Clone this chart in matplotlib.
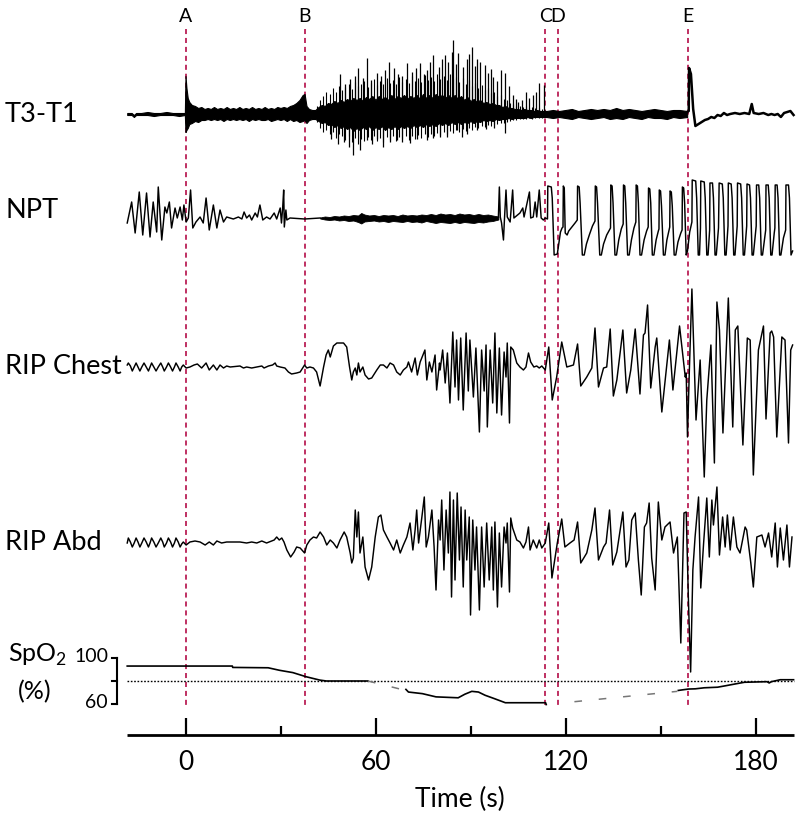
import matplotlib.pyplot as plt
import numpy as np

plt.rcParams['font.family'] = ['Lato', 'DejaVu Sans']
plt.rcParams['mathtext.fontset'] = 'custom'
plt.rcParams['mathtext.rm'] = 'Lato'

# ---------------- data (time in s, traces in arbitrary units, + = up) ----------------
event_lbl = ['A', 'B', 'C', 'D', 'E']
event_t = [0.0, 37.6, 113.6, 117.6, 158.6]

# T3-T1: envelope of the dense EMG band
t3_env_t = [-18.4, -17, -16.3, -15.6, -14, -12, -10, -8, -6, -4, -2, -0.2,
            0.0, 0.3, 0.7, 1.2, 2, 3, 4, 5, 6, 7, 8, 9, 10, 11, 12, 13, 14, 15, 16, 17, 18, 19, 20,
            21, 22, 23, 24, 25, 26, 27, 28, 29, 30, 31, 32, 33, 34, 35, 36, 37, 37.6, 38.2, 39, 40,
            41, 42, 43, 44, 45, 46, 47, 48, 49, 50, 51, 52, 53, 54, 55, 56, 57, 58, 59, 60,
            61, 62, 63, 64, 65, 66, 67, 68, 69, 70, 71, 72, 73, 74, 75, 76, 77, 78, 79, 80,
            81, 82, 83, 84, 85, 86, 87, 88, 89, 90, 91, 92, 93, 94, 95, 96, 97, 98, 99, 100,
            101, 102, 103, 104, 105, 106, 107, 108, 109, 110, 111, 112, 113, 114,
            116, 118, 120, 122, 124, 126, 128, 130, 132, 134, 136, 138, 140, 142, 144, 146, 148,
            150, 152, 154, 156, 158.4]
t3_env_hi = [1, 1, -1, 1, 1, 2, 1, 1, 2, 1, 1, 1,
             38, 26, 16, 12, 9, 8, 6, 7, 5, 6, 5, 7, 5, 6, 5, 7, 5, 6, 5, 7, 5, 6, 5,
             7, 5, 6, 5, 7, 5, 6, 5, 7, 6, 7, 6, 8, 9, 11, 14, 19, 20, 8, 5, 4,
             4, 7, 9, 8, 11, 10, 13, 11, 14, 12, 15, 13, 16, 14, 16, 13, 17, 15, 18, 14,
             18, 15, 17, 14, 19, 15, 18, 16, 19, 15, 18, 16, 19, 15, 20, 16, 19, 16, 20, 17,
             19, 16, 19, 16, 19, 15, 18, 14, 17, 13, 15, 12, 14, 11, 12, 10, 11, 9, 9, 7,
             8, 6, 6, 5, 5, 4, 5, 4, 4, 3, 4, 3, 3, 3,
             4, 3, 4, 5, 3, 4, 5, 4, 5, 4, 6, 4, 5, 4, 3, 4, 5,
             4, 3, 4, 4, 3]
t3_env_lo = [-1, -1, -3, -1, -1, -1, -2, -1, -1, -1, -2, -1,
             -18, -16, -14, -10, -9, -7, -8, -6, -6, -5, -6, -5, -6, -5, -7, -5, -6, -5, -6, -5, -6, -5, -7,
             -5, -6, -5, -6, -6, -5, -7, -6, -5, -6, -5, -7, -5, -7, -6, -8, -7, -6, -9, -6, -5,
             -5, -7, -9, -8, -11, -10, -13, -11, -14, -12, -15, -13, -17, -14, -16, -13, -15, -12, -16, -13,
             -15, -12, -16, -13, -15, -12, -15, -12, -14, -12, -14, -11, -13, -11, -13, -10, -12, -10, -12, -9,
             -11, -9, -11, -8, -10, -8, -10, -8, -9, -7, -9, -7, -8, -6, -7, -6, -7, -5, -6, -5,
             -5, -4, -5, -4, -4, -4, -4, -3, -4, -3, -3, -3, -3, -3,
             -4, -3, -4, -5, -3, -4, -5, -4, -3, -5, -4, -5, -3, -4, -5, -3, -4,
             -4, -5, -3, -4, -3]
# T3-T1: individual spikes over the burst
t3_up_t = [48.8, 50.5, 52.0, 53.5, 54.6, 56.0, 57.2, 58.5, 60.4, 61.8, 63.0, 64.1, 65.7, 67.0, 68.5,
           69.9, 71.5, 72.8, 74.1, 75.2, 76.2, 77.3, 78.3, 79.9, 81.0, 81.9, 83.0, 84.1, 84.6, 85.4,
           86.2, 87.7, 88.8, 89.5, 90.4, 91.5, 92.2, 93.0, 94.6, 95.6, 96.4, 97.2, 98.4, 99.6, 100.9,
           102.0, 103.3, 104.2, 105.1, 106.3, 107.5, 108.5, 109.8, 110.8, 111.7, 113.3]
t3_up_v = [40, 30, 35, 38, 46, 36, 56, 34, 41, 38, 44, 52, 46, 40, 38,
           51, 42, 46, 51, 40, 44, 52, 59, 47, 55, 59, 52, 62, 74, 50,
           61, 47, 55, 60, 67, 48, 55, 52, 49, 41, 45, 37, 33, 44, 41,
           28, 19, 15, 12, 14, 22, 16, 19, 22, 31, 29]
t3_dn_t = [46.0, 48.0, 50.0, 51.5, 53.0, 55.1, 57.2, 59.0, 60.5, 62.5, 64.5, 66.7, 68.5, 71.0,
           73.0, 76.2, 78.0, 80.4, 82.5, 85.7, 87.2, 89.0, 92.0, 95.0, 97.5, 100.9]
t3_dn_v = [-25, -30, -28, -33, -41, -36, -26, -30, -25, -33, -28, -26, -28, -29,
           -25, -26, -24, -23, -23, -16, -23, -20, -16, -15, -14, -19]
# T3-T1: medium excursions, one per second (41.5 ... 113.5 s)
t3_mid_t = [41.5 + i for i in range(73)]
t3_mid_up = [8, 14, 18, 22, 20, 26, 22, 28, 24, 27, 30, 25, 32, 28, 30, 33, 27, 31, 35, 29,
             33, 30, 36, 31, 34, 30, 37, 32, 35, 31, 38, 33, 36, 32, 39, 34, 37, 33, 40, 35,
             38, 34, 40, 35, 37, 32, 36, 30, 34, 28, 31, 26, 29, 24, 26, 21, 22, 18, 19, 15,
             14, 11, 10, 8, 8, 7, 8, 6, 7, 6, 6, 5, 4]
t3_mid_dn = [-8, -14, -18, -16, -20, -18, -24, -20, -22, -26, -22, -28, -24, -30, -25, -27, -23, -26, -22, -27,
             -24, -28, -23, -26, -22, -27, -23, -25, -22, -26, -22, -25, -21, -24, -20, -23, -20, -22, -19, -21,
             -18, -20, -17, -19, -16, -18, -15, -17, -14, -16, -13, -14, -12, -13, -11, -12, -10, -10, -9, -9,
             -8, -7, -6, -6, -5, -5, -5, -4, -5, -4, -4, -4, -3]
t3_post_t = [158.4, 158.9, 159.0, 159.6, 160.3, 161.0, 162.0, 163.0, 164.0, 165.0, 166.0, 167.0, 168.0,
             169.0, 170.0, 171.0, 172.0, 173.5, 175.0, 176.5, 178.0, 178.8, 179.4, 181.0, 182.5, 184.0,
             185.0, 186.0, 187.0, 188.0, 189.0, 190.0, 191.0, 192.0]
t3_post_v = [2, 3, 46, 40, 5, -12, -10, -8, -6, -5, -3, -4, -1, -2, 1, -1, 0, 1, 0, 1, 0, 10, 1, 0, 1, -1,
             0, -1, 0, -3, 1, 2, 3, -1]

# NPT: pre-C polyline, noise band during the central apnoea, post-C sawtooth
npt_pre = [(-18.4, -5), (-17.0, 16), (-15.9, -15), (-14.6, 26), (-13.5, -17), (-12.3, 25), (-11.2, -19),
           (-10.2, 16), (-9.1, -14), (-8.6, 31), (-7.5, -22), (-6.5, 11), (-5.9, 5), (-5.1, 16), (-4.4, -10),
           (-3.3, 10), (-2.6, 0), (-1.7, 11), (-1.0, -2), (-0.5, 13), (0.2, -4), (0.9, 0), (1.6, 28),
           (2.3, -10), (3.3, -4), (4.6, 1), (5.6, -5), (6.5, 20), (7.5, -12), (8.8, 13), (9.9, -10),
           (10.9, 8), (12.0, -4), (13.0, 1), (15.1, -1), (16.7, 1), (17.8, -1), (18.5, 6), (19.3, 0),
           (20.2, 3), (20.9, -2), (22.0, 5), (22.7, 1), (23.5, 13), (24.4, -2), (25.6, 1), (26.7, -1),
           (28.0, 5), (28.8, -1), (29.9, 10), (30.3, -5), (30.7, 11), (31.0, 28), (31.2, -9), (31.7, 8),
           (32.0, -2), (33.0, 0), (37.6, -1), (42.5, 0)]
npt_band_t = [42.5, 44, 45.5, 47, 48.5, 50, 51.5, 53, 54.5, 55.5, 56.5, 58, 59.5, 61, 62.5, 64, 65.5, 67,
              68.5, 70, 71.5, 73, 74.5, 76, 77.5, 79, 80.5, 82, 83.5, 85, 86.5, 88, 89.5, 91, 92.5, 94,
              95.5, 97, 98.8]
npt_band_hi = [0.5, 1.5, 1, 2, 1.5, 2.5, 2, 3, 2.5, 5, 3.5, 2.5, 3, 2, 3, 2.5, 3, 2, 3.5, 2.5, 3, 2.5, 3.5,
               3, 4, 3, 4.5, 3.5, 4, 3, 4.5, 3.5, 4, 3, 4, 3, 3.5, 2.5, 1.5]
npt_band_lo = [-0.5, -1.5, -2, -1.5, -2.5, -2, -3, -2.5, -4, -5.5, -3.5, -3, -2.5, -3.5, -3, -4, -3, -3.5,
               -4, -3, -4, -3.5, -4.5, -3, -4, -5, -4, -4.5, -5, -4, -5, -4, -4.5, -5, -4, -4.5, -3.5,
               -3, -1.5]
npt_post = [(98.8, 1), (99.1, 31), (99.4, 1), (99.8, -5), (100.4, -22), (100.7, -2), (101.2, 28), (101.6, 1),
            (102.5, -4), (103.3, 28), (103.7, 0), (105.6, 5), (106.5, 10), (106.9, 1), (108.6, 26), (109.0, 0),
            (109.8, 1), (110.4, 16), (110.9, 1), (111.7, 28), (112.3, 0), (113.0, -2), (113.6, 0),
            (114.3, -1), (114.4, 32), (115.5, 31), (115.8, 20), (116.4, -37), (117.4, -36), (117.9, -25),
            (118.4, -14), (118.9, -10), (119.2, -9), (119.3, 32), (119.6, 30), (119.9, -15), (120.5, -17),
            (121.0, -13), (122.0, -9), (123.0, -5), (123.7, -2), (123.8, 32), (124.3, 31), (124.6, 15),
            (125.3, -37), (125.9, -37), (126.6, -26), (127.5, -17), (128.5, -8), (129.3, -3), (129.4, 32),
            (129.8, 31), (130.1, 15), (130.8, -37), (131.3, -37), (132.0, -26), (133.0, -17), (134.2, -10),
            (134.3, 33), (134.7, 32), (135.0, 15), (135.6, -37), (136.1, -37), (136.8, -22), (137.6, -11),
            (138.2, -6), (138.3, 33), (138.7, 32), (139.0, 15), (139.6, -37), (140.1, -37), (140.8, -22),
            (141.6, -10), (142.2, -4), (142.3, 33), (142.7, 32), (143.0, 15), (143.5, -37), (144.0, -37),
            (144.8, -22), (145.6, -13), (146.1, -9), (146.2, 30), (146.6, 29), (146.9, 15), (147.4, -37),
            (147.9, -37), (148.6, -22), (149.3, -13), (149.5, -11), (149.6, 28), (150.0, 27), (150.3, 12),
            (150.9, -37), (151.4, -37), (152.0, -22), (152.7, -12), (152.9, -9), (153.0, 27), (153.4, 26),
            (153.7, 12), (154.3, -37), (154.8, -37), (155.5, -24), (156.4, -15), (156.8, -12), (156.9, 31),
            (157.3, 30), (157.6, 15), (158.1, -37), (158.5, -33), (159.2, -14), (159.9, -4), (160.0, 38),
            (161.1, 37), (161.4, 20), (161.9, -37), (162.3, -37), (162.6, -10), (162.7, 37), (163.8, 36),
            (164.1, 20), (164.6, -37), (165.0, -37), (165.5, -12), (165.6, 35), (166.4, 35), (166.7, 20),
            (167.2, -37), (167.6, -37), (168.3, -10), (168.5, 35), (169.5, 34), (169.8, 20), (170.3, -37),
            (170.7, -37), (171.3, -8), (171.4, 35), (172.3, 34), (172.6, 20), (173.1, -37), (173.5, -37),
            (174.2, -8), (174.3, 35), (175.3, 34), (175.6, 20), (176.1, -37), (176.5, -37), (177.2, -8),
            (177.3, 34), (178.1, 33), (178.4, 20), (178.9, -37), (179.3, -37), (180.2, -8), (180.3, 33),
            (181.0, 33), (181.3, 20), (181.8, -37), (182.2, -37), (182.9, -20), (183.2, -12), (183.3, 33),
            (184.0, 33), (184.3, 20), (184.8, -37), (185.2, -37), (185.9, -15), (186.1, -10), (186.2, 33),
            (186.8, 33), (187.1, 20), (187.6, -37), (188.0, -37), (188.8, -20), (189.5, -12), (189.6, 33),
            (190.4, 33), (190.7, 20), (191.2, -37), (191.7, -33)]

# RIP chest
chest = [(-18.4, 2), (-18.05, 4), (-17.4, 1), (-16.8, -4), (-16.2, 0), (-15.6, 4), (-15.0, 0), (-14.4, -4),
         (-13.8, 0), (-13.1, 4), (-12.4, 0), (-11.7, -4), (-11.2, 0), (-10.7, 4), (-10.0, 0), (-9.3, -4),
         (-8.6, 0), (-7.8, 4), (-7.2, 0), (-6.7, -4), (-6.0, 0), (-5.4, 4), (-4.7, 0), (-4.1, -4),
         (-3.5, 0), (-3.0, 4), (-2.3, 0), (-1.7, -4), (-1.2, 0), (-0.7, 2),
         (0.2, -1), (1.4, 0), (2.7, 2), (3.75, 3), (5.1, -1), (6.5, 4), (7.5, -3), (8.8, 2), (9.9, -3),
         (10.9, 2), (12.0, -1), (13.0, 1), (14.1, 0), (17.2, 1), (18.3, -1), (19.3, 0), (20.9, -1),
         (22.5, 0), (24.1, 1), (24.8, -1), (26.2, 1), (27.5, 2), (28.3, 4), (28.8, 1), (29.9, 0),
         (31.4, -1), (32.5, -5), (33.5, -7), (35.1, -6), (36.2, -5), (37.6, 2), (38.3, -1), (39.3, 0),
         (40.4, -1), (41.4, -5), (42.5, -19), (43.6, 0), (44.4, 12), (45.1, 17), (45.7, 10), (46.7, 21),
         (47.8, 24), (49.9, 24), (50.9, 20), (51.8, 0), (52.5, -13), (53.0, -5), (53.6, -1), (54.1, -8),
         (54.6, 4), (55.1, -5), (56.0, 0), (56.7, -8), (57.8, -12), (58.8, -11), (60.4, -3), (61.5, 2),
         (62.5, 2), (63.6, -1), (64.6, 4), (65.7, 2), (66.7, -5), (67.8, -8), (68.8, -3), (69.9, 0),
         (70.4, 5), (71.4, -5), (72.5, 9), (73.2, -8), (74.1, 5), (75.6, 17), (76.2, -13), (77.0, 5),
         (77.8, -5), (78.8, 12), (79.3, -23), (80.2, 4), (80.4, -3), (81.2, 17), (82.0, -16), (82.7, 14),
         (83.5, -36), (84.4, 35), (85.1, -20), (85.6, 27), (86.2, -33), (86.9, 29), (87.7, -43), (88.6, 34),
         (89.3, -24), (89.8, 27), (90.9, -30), (91.7, 19), (92.8, -65), (93.5, 17), (94.3, -24), (94.9, 22),
         (95.3, -60), (96.2, 17), (97.0, -36), (97.7, 34), (98.3, -46), (99.1, 19), (99.8, -48), (100.6, 15),
         (101.2, -10), (101.6, 24), (102.3, -56), (102.7, 20), (103.5, 17), (104.6, 4), (105.6, 0),
         (106.7, -3), (107.5, 0), (108.3, 14), (109.0, 5), (110.0, 0), (110.9, 1), (111.7, -1), (112.5, 1),
         (113.6, -3), (114.7, 20), (115.8, -33), (117.2, -10), (118.8, 25), (120.4, 0), (122.5, 2),
         (123.8, 23), (124.8, -19), (126.7, -10), (128.3, -1), (129.3, 39), (130.4, -20), (132.0, -1),
         (133.0, 0), (134.1, 38), (135.1, -29), (136.2, -13), (138.1, 37), (139.3, -26), (140.6, -3),
         (142.0, 38), (143.5, -27), (144.6, 32), (145.1, 34), (145.9, 62), (146.9, -21), (148.3, 20),
         (148.8, 29), (150.4, -45), (152.8, 27), (153.9, -23), (156.0, 41), (157.8, -10), (158.1, -6),
         (158.5, -70), (159.1, -3), (159.9, 78), (161.2, -53), (162.5, 7), (163.8, -110), (164.6, -33),
         (165.9, 22), (167.0, -96), (167.8, 65), (168.6, 37), (169.7, -66), (171.4, 69), (172.8, -60),
         (173.6, 37), (174.4, 41), (176.0, -78), (177.4, 29), (178.3, 27), (179.3, -108), (180.9, 17),
         (182.5, 41), (183.3, -52), (184.6, 34), (185.1, 36), (185.7, 30), (186.7, -70), (188.3, 30),
         (189.3, 27), (190.4, -76), (191.1, 17), (191.7, 22)]

# RIP abdomen
abd = [(-18.4, 2), (-18.05, 7), (-17.4, 3), (-16.8, -2), (-16.2, 2), (-15.6, 7), (-15.0, 3), (-14.4, -2),
       (-13.8, 2), (-13.1, 7), (-12.4, 3), (-11.7, -2), (-11.2, 2), (-10.7, 7), (-10.0, 3), (-9.3, -2),
       (-8.6, 2), (-7.8, 7), (-7.2, 3), (-6.7, -2), (-6.0, 2), (-5.4, 7), (-4.7, 3), (-4.1, -2),
       (-3.5, 2), (-3.0, 7), (-2.3, 3), (-1.7, -2), (-1.2, 1), (-0.7, 3),
       (0.2, 0), (1.4, 3), (3.0, 4), (4.6, 3), (6.2, 0), (7.5, 3), (8.8, 0), (9.9, 4), (11.4, 2), (13.0, 3),
       (17.2, 3), (19.3, 2), (20.9, 3), (22.5, 2), (24.1, 4), (25.6, 2), (28.0, 5), (28.8, 8), (29.6, 5),
       (30.4, 7), (31.1, 3), (32.0, -5), (33.2, -12), (34.3, -7), (35.1, -2), (36.2, -3), (37.6, -8),
       (38.3, 0), (39.3, 5), (40.4, 8), (41.4, 7), (42.5, 13), (43.6, 8), (44.6, 0), (45.7, 5), (46.7, 2),
       (47.8, -3), (48.8, 5), (50.1, 13), (50.9, 8), (52.0, -8), (52.5, -18), (53.0, -13), (53.6, 35),
       (54.1, 8), (54.6, 33), (55.1, -8), (56.0, 8), (56.7, -22), (57.8, -35), (58.8, -22), (59.9, 8),
       (60.9, 28), (61.7, 30), (62.5, 15), (63.6, 8), (64.6, 2), (65.7, -5), (66.7, 5), (67.8, -8),
       (68.8, 0), (69.9, 8), (70.9, 22), (71.8, -5), (72.5, 15), (73.0, 35), (73.6, 2), (74.6, 27),
       (75.4, 48), (76.0, -2), (76.7, 8), (77.8, 35), (78.5, -2), (79.1, -45), (79.9, 25), (80.4, 5),
       (80.9, 45), (81.6, -25), (82.3, 35), (83.0, -8), (83.5, 53), (84.0, -52), (84.6, 45), (85.1, -35),
       (85.8, 52), (86.5, -15), (87.0, 38), (87.7, -42), (88.3, 35), (88.8, -15), (89.6, 28), (90.0, -70),
       (90.7, 25), (91.4, -25), (91.9, 18), (92.8, -65), (93.5, 18), (94.3, -42), (95.1, 22), (95.9, -35),
       (96.7, 18), (97.2, -45), (97.7, 23), (98.5, -62), (99.1, 12), (99.8, -42), (100.6, 18), (101.2, 2),
       (101.6, 22), (102.3, -47), (102.7, 27), (103.3, 17), (104.6, 5), (105.6, 3), (106.7, -3),
       (107.5, 3), (108.3, 18), (108.8, -5), (109.8, 5), (110.9, -3), (111.7, 5), (112.5, -3), (113.6, 2),
       (114.7, 22), (115.7, -33), (116.7, -12), (117.4, 2), (118.8, 26), (119.8, -2), (121.4, 2),
       (122.7, 5), (123.8, 23), (124.8, -18), (126.7, -8), (128.3, 15), (129.3, 37), (130.4, -15),
       (132.0, -2), (132.8, 2), (133.9, 35), (134.9, -20), (136.2, -7), (138.1, 33), (139.1, -22),
       (140.0, -15), (140.9, 25), (142.0, 32), (143.0, -15), (143.9, -50), (144.9, 18), (145.6, 22),
       (146.4, 42), (147.2, -13), (148.3, -45), (149.3, 43), (150.4, 5), (151.4, 18), (153.0, 23),
       (154.1, -8), (155.3, 8), (156.4, -98), (157.4, 32), (158.1, 33), (158.8, -55), (159.5, -127),
       (160.2, -25), (160.9, 8), (162.0, 48), (162.7, -43), (163.6, 2), (164.6, 47), (165.4, -12),
       (166.2, 45), (166.7, 20), (167.8, 58), (168.6, -10), (169.6, 28), (170.4, -2), (171.1, 30),
       (172.0, -5), (173.0, 28), (174.1, -2), (175.1, -8), (176.7, 18), (177.2, 15), (178.5, -18),
       (179.3, -42), (180.4, 8), (182.0, 10), (183.0, -2), (184.1, 12), (185.1, -12), (186.2, 22),
       (186.9, -22), (187.8, 17), (188.8, -15), (189.9, 20), (190.7, -22), (191.5, 8)]

# SpO2 (%): solid recorded parts and dashed gaps
spo2_seg1_t = [-18.4, 14.8, 14.9, 26.1, 29.7, 33.9, 38.1, 42.4, 44.5, 57.6]
spo2_seg1_v = [93, 93, 91.8, 91.5, 89.3, 87.3, 83.7, 80.8, 80, 80]
spo2_seg2_t = [69.6, 70.4, 74.8, 79.1, 86.1, 88.2, 90.4, 92.5, 94.6, 97.4, 101.0, 113.7, 113.9]
spo2_seg2_v = [72.7, 70.4, 69.0, 66.2, 65.4, 68.5, 71.0, 70.4, 67.6, 64.8, 61.1, 61.1, 59.5]
spo2_seg3_t = [155.6, 158.8, 161.0, 163.8, 168.0, 170.8, 173.7, 176.5, 183.6, 184.3, 185.0, 187.8, 192.0]
spo2_seg3_v = [71.8, 73.0, 73.2, 74.1, 74.6, 76.0, 77.5, 78.9, 79.4, 78.3, 79.4, 81.1, 81.1]
spo2_gap1 = [(57.6, 80), (69.2, 72)]
spo2_gap2 = [(122.8, 62), (155.3, 71)]
spo2_ref = 80
spo2_ticks = [100, 60]

xticks_major = [0, 60, 120, 180]
xticks_minor = [30, 90, 150]

# ---------------- layout (pixel based) ----------------
def px(x):
    return (x - 185.5) / 3.167

def spo2_y(v):
    return 681 - (np.asarray(v) - spo2_ref) * 1.15

base = {'T3-T1': 114, 'NPT': 218, 'RIP Chest': 367, 'RIP Abd': 545}
red = '#bf3062'
lw = 1.05

fig = plt.figure(figsize=(8, 8.16), dpi=100)
ax = fig.add_axes([0, 0, 1, 1])
ax.set_xlim(px(0), px(800))
ax.set_ylim(816, 0)
ax.axis('off')

# event markers
for lbl, t in zip(event_lbl, event_t):
    ax.plot([t, t], [29, 705], color=red, lw=1.4, ls=(0, (2.6, 2.0)), zorder=1)
    ax.text(t, 17, lbl, ha='center', va='center', fontsize=14)

# T3-T1
b = base['T3-T1']
ax.fill_between(t3_env_t, b - np.array(t3_env_hi), b - np.array(t3_env_lo), color='black', lw=0.8, zorder=2)
ax.vlines(t3_mid_t, b - np.array(t3_mid_dn), b - np.array(t3_mid_up), color='black', lw=0.8, zorder=2)
ax.vlines(t3_up_t, b, b - np.array(t3_up_v), color='black', lw=0.9, zorder=2)
ax.vlines(t3_dn_t, b, b - np.array(t3_dn_v), color='black', lw=0.9, zorder=2)
ax.plot(t3_post_t, b - np.array(t3_post_v), color='black', lw=1.8, zorder=2)

# NPT
b = base['NPT']
tt, vv = np.array(npt_pre).T
ax.plot(tt, b - vv, color='black', lw=lw, zorder=2)
ax.fill_between(npt_band_t, b - np.array(npt_band_hi), b - np.array(npt_band_lo), color='black', lw=0.6, zorder=2)
tt, vv = np.array(npt_post).T
ax.plot(tt, b - vv, color='black', lw=lw, zorder=2)

# RIP
for name, pts in [('RIP Chest', chest), ('RIP Abd', abd)]:
    tt, vv = np.array(pts).T
    ax.plot(tt, base[name] - vv, color='black', lw=lw, zorder=2)

# SpO2
ax.plot([px(127), px(794)], [spo2_y(spo2_ref)] * 2, color='black', lw=1.0, ls=(0, (1.2, 1.2)), zorder=2)
for st, sv in [(spo2_seg1_t, spo2_seg1_v), (spo2_seg2_t, spo2_seg2_v), (spo2_seg3_t, spo2_seg3_v)]:
    ax.plot(st, spo2_y(sv), color='black', lw=1.2, zorder=3)
for g in [spo2_gap1, spo2_gap2]:
    gt, gv = np.array(g).T
    ax.plot(gt, spo2_y(gv), color='#777777', lw=1.1, ls=(0, (5, 11)), zorder=3)
bx, bt = px(117), px(112)
ax.plot([bx, bx], [spo2_y(spo2_ticks[0]), spo2_y(spo2_ticks[1])], color='black', lw=1.5)
for v in spo2_ticks + [spo2_ref]:
    ax.plot([bt, bx], [spo2_y(v)] * 2, color='black', lw=1.5)
for v in spo2_ticks:
    ax.text(px(108), spo2_y(v) - 2, str(v), ha='right', va='center', fontsize=14)

# trace labels
for name, y in [('T3-T1', 115), ('NPT', 210), ('RIP Chest', 367), ('RIP Abd', 543)]:
    ax.text(px(5), y, name, ha='left', va='center', fontsize=19.5)
ax.text(px(8), 655, 'SpO$_2$', ha='left', va='center', fontsize=18)
ax.text(px(35), 692, '(%)', ha='center', va='center', fontsize=18)

# time axis
ax.plot([px(127), px(794)], [735, 735], color='black', lw=2.0, solid_capstyle='butt')
ax.vlines(xticks_major, 718, 735, color='black', lw=1.6)
ax.vlines(xticks_minor, 726, 735, color='black', lw=1.6)
for t in xticks_major:
    ax.text(t, 762, str(t), ha='center', va='center', fontsize=19)
ax.text(px(460), 799, 'Time (s)', ha='center', va='center', fontsize=19)

fig.savefig('out.png', dpi=100)
